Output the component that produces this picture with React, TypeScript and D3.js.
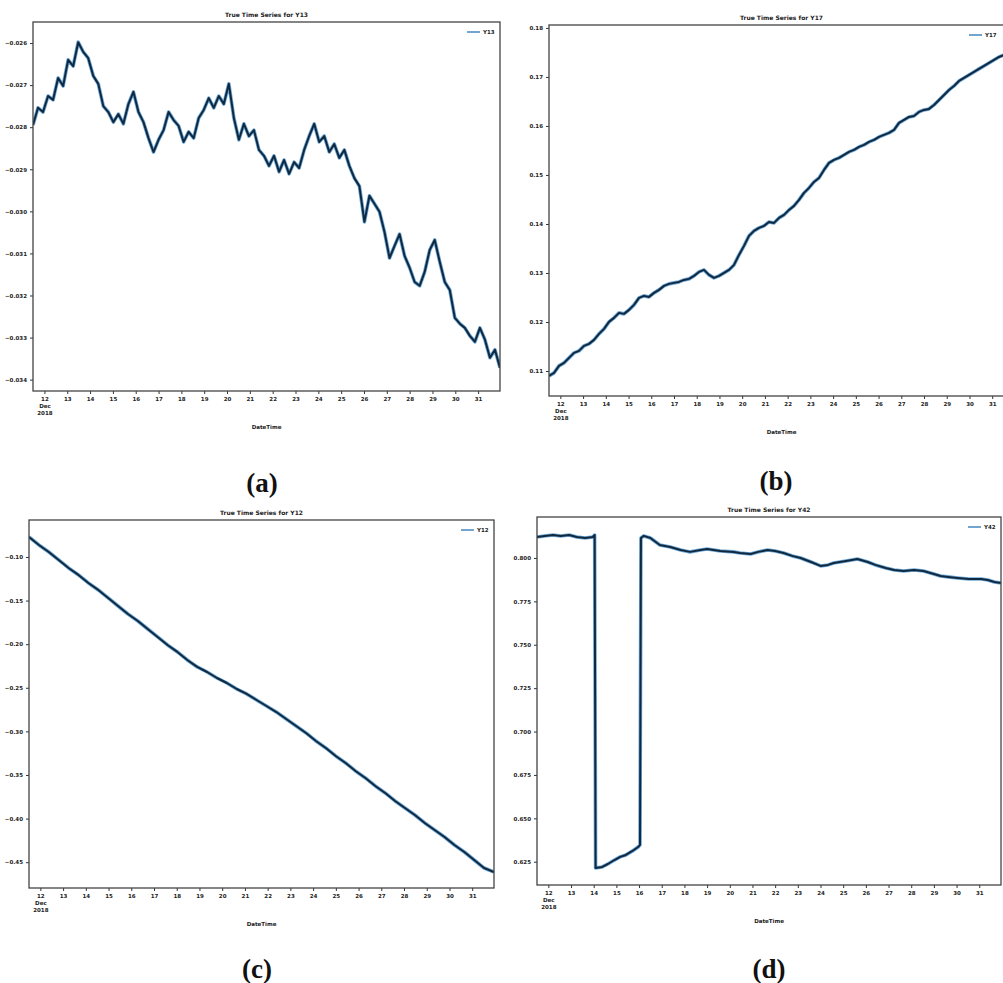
import React, { useEffect, useRef } from 'react';
import * as d3 from 'd3';

// time window shared by the four panels
const START = new Date(2018, 11, 11, 12);
const END = new Date(2018, 11, 31, 23);

// (a) Y13, evenly spaced readings
const y13Values = [
  -0.02795, -0.02754, -0.02764, -0.02726, -0.02735, -0.02683, -0.02702, -0.0264, -0.02655, -0.02598,
  -0.02621, -0.02636, -0.02678, -0.02697, -0.0275, -0.02764, -0.02788, -0.02769, -0.02792, -0.02745,
  -0.02716, -0.02764, -0.02788, -0.02826, -0.02859, -0.0283, -0.02807, -0.02764, -0.02783, -0.02797,
  -0.02835, -0.02811, -0.02826, -0.02778, -0.02759, -0.02731, -0.02754, -0.02726, -0.02745, -0.02697,
  -0.02778, -0.0283, -0.02792, -0.02821, -0.02807, -0.02854, -0.02868, -0.02892, -0.02868, -0.02906,
  -0.02878, -0.02911, -0.02883, -0.02897, -0.02854, -0.02821, -0.02792, -0.02835, -0.02821, -0.02859,
  -0.0284, -0.02873, -0.02854, -0.02892, -0.02921, -0.0294, -0.03025, -0.02963, -0.02982, -0.03001,
  -0.03049, -0.03111, -0.03082, -0.03054, -0.03106, -0.03134, -0.03168, -0.03177, -0.03144, -0.03092,
  -0.03068, -0.0312, -0.03168, -0.03187, -0.03253, -0.03267, -0.03277, -0.03296, -0.0331, -0.03277,
  -0.03305, -0.03348, -0.03329, -0.03372,
];
const y13Ticks = [-0.026, -0.027, -0.028, -0.029, -0.03, -0.031, -0.032, -0.033, -0.034];

// (b) Y17
const y17Values = [
  0.10901, 0.10962, 0.11105, 0.11166, 0.11268, 0.1137, 0.11411, 0.11513, 0.11554, 0.11635,
  0.11758, 0.1186, 0.12002, 0.12084, 0.12186, 0.12166, 0.12247, 0.12349, 0.12492, 0.12533,
  0.12512, 0.12594, 0.12655, 0.12737, 0.12778, 0.12798, 0.12818, 0.12859, 0.1288, 0.12941,
  0.13022, 0.13063, 0.12961, 0.129, 0.12941, 0.13002, 0.13063, 0.13165, 0.13369, 0.13553,
  0.13757, 0.13859, 0.1392, 0.13961, 0.14042, 0.14022, 0.14124, 0.14185, 0.14287, 0.14369,
  0.14491, 0.14634, 0.14736, 0.14858, 0.1494, 0.15103, 0.15246, 0.15307, 0.15348, 0.15409,
  0.1547, 0.15511, 0.15572, 0.15613, 0.15674, 0.15715, 0.15776, 0.15817, 0.15858, 0.15919,
  0.16062, 0.16123, 0.16184, 0.16205, 0.16286, 0.16327, 0.16348, 0.16429, 0.16531, 0.16633,
  0.16735, 0.16817, 0.16919, 0.1698, 0.17041, 0.17102, 0.17164, 0.17225, 0.17286, 0.17347,
  0.17408, 0.17449, 0.1751, 0.17572,
];
const y17Ticks = [0.11, 0.12, 0.13, 0.14, 0.15, 0.16, 0.17, 0.18];

// (c) Y12
const y12Values = [
  -0.0771, -0.0862, -0.0943, -0.1034, -0.1126, -0.1206, -0.1298, -0.1378, -0.147, -0.1562,
  -0.1654, -0.1734, -0.1826, -0.1917, -0.2009, -0.2089, -0.2181, -0.2261, -0.2319, -0.2388,
  -0.2445, -0.2514, -0.2571, -0.264, -0.2709, -0.2778, -0.2858, -0.2938, -0.3018, -0.311,
  -0.319, -0.3282, -0.3362, -0.3454, -0.3534, -0.3626, -0.3706, -0.3798, -0.3878, -0.3959,
  -0.405, -0.4131, -0.4211, -0.4303, -0.4383, -0.4475, -0.4567, -0.4612,
];
const y12Ticks = [-0.1, -0.15, -0.2, -0.25, -0.3, -0.35, -0.4, -0.45];

// (d) Y42, hours after START
const y42Hours = [
  0, 8, 17, 25, 34, 42, 51, 59, 61, 62, 69, 75, 82, 88, 94, 101, 107, 109, 110, 113,
  120, 130, 141, 152, 162, 173, 180, 194, 208, 215, 226, 234, 244, 252, 261, 270, 279, 290, 300, 308,
  314, 327, 339, 350, 358, 369, 378, 388, 399, 409, 420, 427, 435, 445, 457, 470, 477, 484, 491,
];
const y42Values = [
  0.8121, 0.8127, 0.8132, 0.8127, 0.8132, 0.8121, 0.8115, 0.8121, 0.8132, 0.6214,
  0.622, 0.6237, 0.626, 0.6278, 0.6289, 0.6312, 0.6335, 0.6347, 0.8115, 0.8127,
  0.8115, 0.8075, 0.8063, 0.8046, 0.8035, 0.8046, 0.8052, 0.804, 0.8035, 0.8029,
  0.8023, 0.8035, 0.8046, 0.804, 0.8029, 0.8012, 0.8, 0.7977, 0.7954, 0.796,
  0.7971, 0.7983, 0.7994, 0.7977, 0.796, 0.7942, 0.7931, 0.7925, 0.7931, 0.7925,
  0.7908, 0.7896, 0.7891, 0.7885, 0.7879, 0.7879, 0.7873, 0.7862, 0.7856,
];
const y42Ticks = [0.8, 0.775, 0.75, 0.725, 0.7, 0.675, 0.65, 0.625];

const spread = (n) =>
  d3.range(n).map((i) => new Date(+START + (i * (+END - +START)) / (n - 1)));
const fromHours = (hs) => hs.map((h) => new Date(+START + h * 3600e3));

const panels = [
  {
    key: 'a', name: 'Y13', dates: spread(y13Values.length), values: y13Values,
    ticks: y13Ticks, fmt: '.3f', yDomain: [-0.03427, -0.0255], legendRight: 500,
    box: { left: 33, top: 22, right: 500, bottom: 391 }, label: '(a)', labelX: 262, labelY: 492,
  },
  {
    key: 'b', name: 'Y17', dates: spread(y17Values.length), values: y17Values,
    ticks: y17Ticks, fmt: '.2f', yDomain: [0.1049, 0.1806], legendRight: 1002,
    box: { left: 549, top: 25, right: 1014, bottom: 396 }, label: '(b)', labelX: 776, labelY: 490,
  },
  {
    key: 'c', name: 'Y12', dates: spread(y12Values.length), values: y12Values,
    ticks: y12Ticks, fmt: '.2f', yDomain: [-0.4796, -0.0576], legendRight: 494,
    box: { left: 29, top: 520, right: 494, bottom: 888 }, label: '(c)', labelX: 257, labelY: 978,
  },
  {
    key: 'd', name: 'Y42', dates: fromHours(y42Hours), values: y42Values,
    ticks: y42Ticks, fmt: '.3f', yDomain: [0.6116, 0.8236], legendRight: 1001,
    box: { left: 537, top: 517, right: 1001, bottom: 885 }, label: '(d)', labelX: 769, labelY: 978,
  },
];

const FONT = 'DejaVu Sans, sans-serif';

const Panel = ({ cfg }) => {
  const ref = useRef(null);

  useEffect(() => {
    const g = d3.select(ref.current);
    g.selectAll('*').remove();
    const { left, top, right, bottom } = cfg.box;

    const x = d3.scaleTime().domain([START, END]).range([left, right]);
    const y = d3.scaleLinear().domain(cfg.yDomain).range([bottom, top]);

    const clipId = 'clip-' + cfg.key;
    g.append('clipPath').attr('id', clipId)
      .append('rect').attr('x', left).attr('y', top)
      .attr('width', right - left).attr('height', bottom - top);

    const pts = cfg.dates.map((d, i) => [d, cfg.values[i]]);
    const line = d3.line().x((d) => x(d[0])).y((d) => y(d[1]));

    const plot = g.append('g').attr('clip-path', `url(#${clipId})`);
    plot.append('path').datum(pts).attr('d', line)
      .attr('fill', 'none').attr('stroke', '#6ea8d8').attr('stroke-width', 3.6)
      .attr('stroke-linejoin', 'round');
    plot.append('path').datum(pts).attr('d', line)
      .attr('fill', 'none').attr('stroke', '#10293f').attr('stroke-width', 2)
      .attr('stroke-linejoin', 'round');

    // x axis: one tick per day
    const xAxis = g.append('g')
      .attr('transform', `translate(0,${bottom})`)
      .call(d3.axisBottom(x).ticks(d3.timeDay.every(1)).tickSize(3).tickFormat(d3.timeFormat('%d')));
    xAxis.select('.domain').remove();
    xAxis.selectAll('line').attr('stroke', '#333');
    xAxis.selectAll('text').attr('font-size', 5.5).attr('font-family', FONT)
      .attr('font-weight', 'bold').attr('fill', '#222');
    const first = xAxis.select('.tick text');
    const day = first.text();
    first.text(null);
    first.append('tspan').attr('x', 0).text(day);
    first.append('tspan').attr('x', 0).attr('dy', '1.3em').text('Dec');
    first.append('tspan').attr('x', 0).attr('dy', '1.3em').text('2018');

    const yAxis = g.append('g')
      .attr('transform', `translate(${left},0)`)
      .call(d3.axisLeft(y).tickValues(cfg.ticks).tickSize(3).tickFormat(d3.format(cfg.fmt)));
    yAxis.select('.domain').remove();
    yAxis.selectAll('line').attr('stroke', '#333');
    yAxis.selectAll('text').attr('font-size', 5.5).attr('font-family', FONT)
      .attr('font-weight', 'bold').attr('fill', '#222');

    g.append('rect').attr('x', left).attr('y', top)
      .attr('width', right - left).attr('height', bottom - top)
      .attr('fill', 'none').attr('stroke', '#444').attr('stroke-width', 1.3);

    const mid = (left + right) / 2;
    g.append('text').attr('x', mid).attr('y', top - 5).attr('text-anchor', 'middle')
      .attr('font-size', 6).attr('font-family', FONT).attr('font-weight', 'bold').attr('fill', '#222')
      .text(`True Time Series for ${cfg.name}`);
    g.append('text').attr('x', mid).attr('y', bottom + 38).attr('text-anchor', 'middle')
      .attr('font-size', 5.5).attr('font-family', FONT).attr('font-weight', 'bold').attr('fill', '#222')
      .text('DateTime');

    // legend
    const ly = top + 10;
    const lr = cfg.legendRight;
    g.append('line').attr('x1', lr - 33).attr('x2', lr - 20).attr('y1', ly).attr('y2', ly)
      .attr('stroke', '#4f8fc4').attr('stroke-width', 1.6);
    g.append('text').attr('x', lr - 17).attr('y', ly + 2)
      .attr('font-size', 5.5).attr('font-family', FONT).attr('font-weight', 'bold').attr('fill', '#222')
      .text(cfg.name);

    g.append('text').attr('x', cfg.labelX).attr('y', cfg.labelY).attr('text-anchor', 'middle')
      .attr('font-size', 27).attr('font-family', 'Liberation Serif, serif').attr('font-weight', 'bold')
      .attr('fill', '#111').text(cfg.label);
  }, [cfg]);

  return <g ref={ref} />;
};

export default function App() {
  return (
    <svg
      width={1003}
      height={983}
      style={{ position: 'absolute', left: 0, top: 0, background: '#fff' }}
    >
      <rect width={1003} height={983} fill="#fff" />
      {panels.map((p) => (
        <Panel key={p.key} cfg={p} />
      ))}
    </svg>
  );
}
